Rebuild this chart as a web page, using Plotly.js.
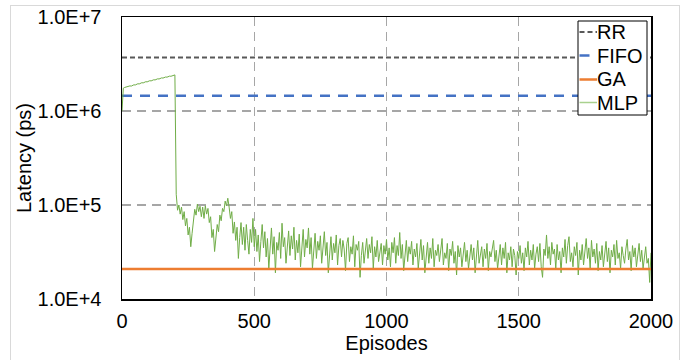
<!DOCTYPE html>
<html>
<head>
<meta charset="utf-8">
<script src="https://cdn.plot.ly/plotly-3.0.1.min.js"></script>
<style>
  html, body { margin: 0; padding: 0; background: #fff; }
  #wrap { position: relative; width: 694px; height: 360px; overflow: hidden; }
  #chart { position: absolute; left: 0; top: 0; width: 694px; height: 360px; }
  #frame { position: absolute; left: 10px; top: 5px; width: 668px; height: 400px;
           border: 1px solid #d9d9d9; pointer-events: none; }
</style>
</head>
<body>
<div id="wrap">
  <div id="chart"></div>
  <div id="frame"></div>
</div>
<script>
// ---- data ----
const seriesNames = ['RR', 'FIFO', 'GA', 'MLP'];
const seriesColors = ['#595959', '#4472C4', '#ED7D31', '#70AD47'];
const rrLatency = 3700000;
const fifoLatency = 1450000;
const gaLatency = 20800;
const episodeStart = 0;
const episodeStep = 5;
const xRange = [0, 2000];
const xTicks = [0, 500, 1000, 1500, 2000];
const yTicks = [1e4, 1e5, 1e6, 1e7];
const yTickLabels = ['1.0E+4', '1.0E+5', '1.0E+6', '1.0E+7'];

// MLP latency, one value every 5 episodes (0..2000)
const mlpLatency = [
  // 0-200
  1000000, 1750000, 1780000, 1800000, 1790000, 1830000, 1850000, 1840000, 1880000, 1900000,
  1890000, 1930000, 1950000, 1940000, 1980000, 2000000, 1990000, 2030000, 2050000, 2040000,
  2080000, 2100000, 2090000, 2130000, 2150000, 2140000, 2180000, 2200000, 2190000, 2230000,
  2250000, 2240000, 2280000, 2300000, 2290000, 2330000, 2350000, 2340000, 2380000, 2400000,
  2420000,
  // 205-500
  130000, 88000, 100000, 80000, 95000, 70000, 85000, 60000, 72000, 48000,
  58000, 36000, 50000, 68000, 90000, 78000, 102000, 85000, 97000, 75000,
  95000, 72000, 98000, 80000, 92000, 65000, 75000, 45000, 55000, 32000,
  48000, 62000, 52000, 78000, 68000, 92000, 85000, 110000, 98000, 118000,
  95000, 72000, 85000, 50000, 66000, 42000, 58000, 27000, 45000, 65000,
  38000, 58000, 33000, 62000, 42000, 30000, 55000, 40000, 72000, 36000,
  // 505-600
  55000, 32000, 48000, 25000, 41000, 62000, 35000, 52000, 28000, 44000,
  21000, 38000, 57000, 30000, 46000, 19000, 40000, 33000, 51000, 27000,
  // 605-700
  64000, 36000, 45000, 24000, 39000, 53000, 29000, 47000, 34000, 58000,
  26000, 42000, 31000, 49000, 22000, 37000, 55000, 28000, 43000, 35000,
  // 705-800
  57000, 30000, 45000, 21000, 38000, 50000, 27000, 41000, 33000, 47000,
  24000, 36000, 52000, 29000, 40000, 19000, 35000, 46000, 26000, 39000,
  // 805-900
  31000, 48000, 23000, 37000, 44000, 28000, 42000, 34000, 20000, 39000,
  45000, 25000, 36000, 30000, 47000, 22000, 38000, 33000, 41000, 17000,
  // 905-1000
  29000, 40000, 24000, 35000, 44000, 27000, 38000, 31000, 46000, 21000,
  36000, 28000, 42000, 25000, 34000, 39000, 23000, 37000, 30000, 43000,
  // 1005-1100
  26000, 35000, 22000, 40000, 31000, 45000, 24000, 37000, 29000, 51000,
  27000, 38000, 20000, 33000, 42000, 25000, 36000, 30000, 41000, 23000,
  // 1105-1200
  34000, 28000, 39000, 21000, 32000, 43000, 26000, 37000, 19000, 30000,
  40000, 24000, 35000, 27000, 44000, 22000, 33000, 29000, 38000, 25000,
  // 1205-1300
  36000, 44000, 23000, 31000, 27000, 39000, 20000, 34000, 29000, 41000,
  24000, 32000, 18000, 37000, 28000, 35000, 22000, 30000, 40000, 25000,
  // 1305-1400
  33000, 21000, 29000, 38000, 26000, 35000, 19000, 31000, 42000, 24000,
  30000, 36000, 22000, 34000, 27000, 39000, 20000, 32000, 28000, 37000,
  // 1405-1500
  42000, 25000, 33000, 21000, 30000, 38000, 23000, 35000, 27000, 40000,
  19000, 31000, 26000, 36000, 22000, 34000, 29000, 18000, 32000, 27000,
  // 1505-1600
  37000, 24000, 31000, 20000, 35000, 28000, 41000, 23000, 33000, 26000,
  38000, 21000, 30000, 36000, 25000, 39000, 22000, 17000, 34000, 29000,
  // 1605-1700
  48000, 27000, 36000, 23000, 40000, 30000, 34000, 21000, 38000, 26000,
  32000, 19000, 35000, 28000, 43000, 24000, 37000, 46000, 25000, 31000,
  // 1705-1800
  22000, 36000, 29000, 40000, 18000, 33000, 26000, 38000, 23000, 31000,
  44000, 27000, 35000, 21000, 42000, 28000, 34000, 24000, 39000, 20000,
  // 1805-1900
  32000, 26000, 37000, 22000, 30000, 41000, 25000, 35000, 19000, 33000,
  28000, 38000, 23000, 42000, 27000, 31000, 21000, 36000, 29000, 24000,
  // 1905-2000
  34000, 43000, 26000, 32000, 20000, 37000, 28000, 35000, 22000, 30000,
  39000, 25000, 33000, 21000, 29000, 36000, 24000, 27000, 15000, 31000
];

// ---- chart ----
const FONT = 'Liberation Sans, Arial, Helvetica, sans-serif';
const lineStyles = [
  { color: seriesColors[0], width: 2, dash: '5px,3px' },
  { color: seriesColors[1], width: 2.5, dash: '10px,8px' },
  { color: seriesColors[2], width: 2.5 },
  { color: seriesColors[3], width: 1 }
];

const traces = [
  { name: seriesNames[0], type: 'scatter', mode: 'lines',
    x: xRange, y: [rrLatency, rrLatency], line: lineStyles[0] },
  { name: seriesNames[1], type: 'scatter', mode: 'lines',
    x: xRange, y: [fifoLatency, fifoLatency], line: lineStyles[1] },
  { name: seriesNames[3], type: 'scatter', mode: 'lines',
    x0: episodeStart, dx: episodeStep, y: mlpLatency, line: lineStyles[3] },
  { name: seriesNames[2], type: 'scatter', mode: 'lines',
    x: xRange, y: [gaLatency, gaLatency], line: lineStyles[2] }
];

// custom compact legend (paper coordinates of the plot area: 529 x 282 px)
const PW = 529, PH = 282;
const px = v => v / PW, py = v => 1 - v / PH;   // offsets from plot top-left
const legendBox = { left: 456, right: 525, top: 4, bottom: 98 };
const entryY = [15, 38.5, 62.5, 85.5];
const legendSymbolColors = [seriesColors[0], seriesColors[1], seriesColors[2], '#A9D18E'];
const shapes = [
  { type: 'rect', xref: 'paper', yref: 'paper',
    x0: px(legendBox.left), x1: px(legendBox.right), y0: py(legendBox.bottom), y1: py(legendBox.top),
    fillcolor: '#ffffff', line: { color: '#000', width: 1 }, layer: 'above' }
];
const annotations = [];
seriesNames.forEach((n, i) => {
  shapes.push({ type: 'line', xref: 'paper', yref: 'paper', layer: 'above',
    x0: px(legendBox.left + 1.5), x1: px(legendBox.left + 19), y0: py(entryY[i]), y1: py(entryY[i]),
    line: Object.assign({}, lineStyles[i], { color: legendSymbolColors[i], width: i === 3 ? 1.5 : lineStyles[i].width }) });
  annotations.push({ xref: 'paper', yref: 'paper', x: px(legendBox.left + 18), y: py(entryY[i]),
    xanchor: 'left', yanchor: 'middle', showarrow: false, text: n,
    font: { family: FONT, size: 20, color: '#000' }, borderpad: 0 });
});

const layout = {
  width: 694, height: 360,
  margin: { l: 122, r: 43, t: 17, b: 61, pad: 0 },
  paper_bgcolor: 'rgba(0,0,0,0)',
  plot_bgcolor: '#ffffff',
  font: { family: FONT, size: 20, color: '#000' },
  showlegend: false,
  shapes: shapes,
  annotations: annotations,
  xaxis: {
    range: xRange, tickvals: xTicks, ticktext: xTicks.map(String),
    showgrid: true, gridcolor: '#A6A6A6', gridwidth: 1.4, griddash: '9px,6px',
    zeroline: false, showline: true, linecolor: '#000', linewidth: 1.5, mirror: true,
    ticks: 'outside', ticklen: 3, tickcolor: 'rgba(0,0,0,0)',
    tickfont: { family: FONT, size: 20, color: '#000' },
    title: { text: 'Episodes', font: { family: FONT, size: 20, color: '#000' }, standoff: 4 }
  },
  yaxis: {
    type: 'log', range: [4, 7], tickvals: yTicks, ticktext: yTickLabels,
    showgrid: true, gridcolor: '#A6A6A6', gridwidth: 1.4, griddash: '9px,6px',
    zeroline: false, showline: true, linecolor: '#000', linewidth: 1.5, mirror: true,
    ticks: 'outside', ticklen: 15, tickcolor: 'rgba(0,0,0,0)',
    tickfont: { family: FONT, size: 20, color: '#000' },
    title: { text: 'Latency (ps)', font: { family: FONT, size: 20, color: '#000' }, standoff: 0 }
  }
};

Plotly.newPlot('chart', traces, layout, { displayModeBar: false, staticPlot: true });
</script>
</body>
</html>
